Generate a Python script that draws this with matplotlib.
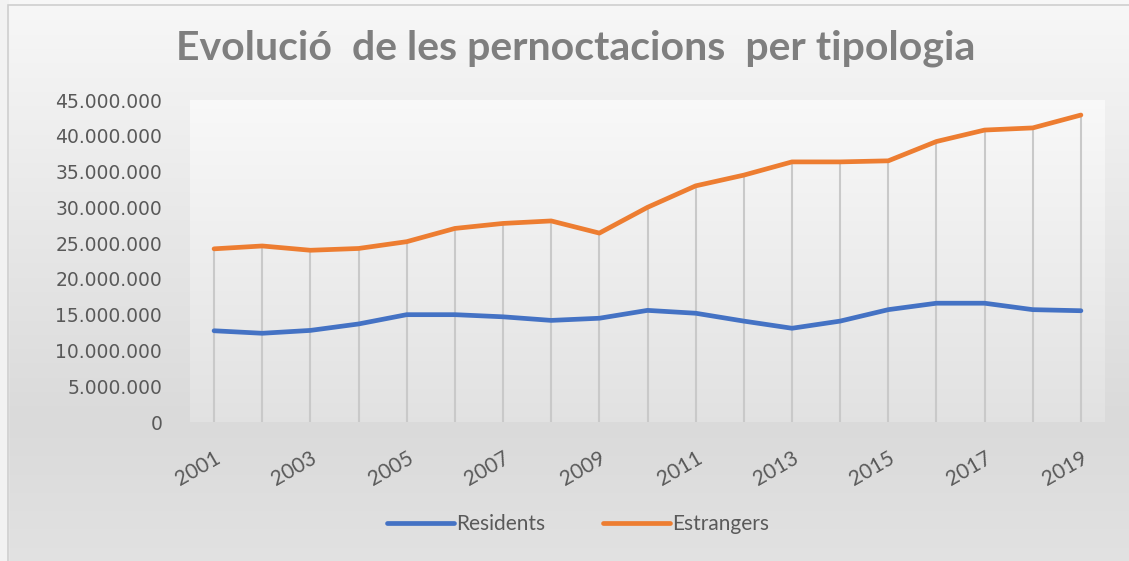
#!/usr/bin/python3
# -*- coding: utf-8 -*-
"""
Evolucio de les pernoctacions per tipologia (residents / estrangers).
"""
import numpy
import matplotlib
matplotlib.use('Agg')
import matplotlib.pyplot as plt
from matplotlib.ticker import FuncFormatter
from matplotlib.patches import Rectangle

years = list(range(2001, 2020))
residents = [12.75e6, 12.4e6, 12.8e6, 13.7e6, 15.0e6, 15.0e6, 14.7e6, 14.2e6, 14.5e6, 15.6e6,
             15.2e6, 14.1e6, 13.1e6, 14.1e6, 15.7e6, 16.6e6, 16.6e6, 15.7e6, 15.55e6]
estrangers = [24.2e6, 24.6e6, 24.0e6, 24.25e6, 25.2e6, 27.05e6, 27.75e6, 28.1e6, 26.4e6, 30.0e6,
              33.0e6, 34.5e6, 36.35e6, 36.35e6, 36.5e6, 39.2e6, 40.8e6, 41.1e6, 42.9e6]
labels = ['Residents', 'Estrangers']
colors = ['#4472C4', '#ED7D31']
title = 'Evolució  de les pernoctacions  per tipologia'

def gradient(ax, stops, extent, transform, zorder):
    pos = numpy.linspace(0, 1, 256)
    xs = [s[0] for s in stops]
    vals = numpy.interp(pos, xs, [s[1] for s in stops])
    img = numpy.dstack([vals, vals, vals]).reshape(256, 1, 3)
    ax.imshow(img, extent=extent, transform=transform, aspect='auto',
              zorder=zorder, origin='upper', interpolation='bilinear')

fig = plt.figure(figsize=(11.29, 5.61), dpi=100)

# figure background
bg = fig.add_axes([0, 0, 1, 1])
bg.set_axis_off()
bg.set_xlim(0, 1); bg.set_ylim(0, 1)
gradient(bg, [(0, 0.97), (0.75, 0.855), (1, 0.885)], [0, 1, 0, 1], bg.transAxes, 0)
bg.add_patch(Rectangle((0, 0), 8/1129, 1, transform=bg.transAxes, color='#f2f2f2', zorder=1))
bg.add_patch(Rectangle((8/1129, -0.01), 1.0, 1 - 5/561 + 0.01, transform=bg.transAxes,
                       fill=False, edgecolor='#cfcfcf', lw=1.2, zorder=2))

ax = fig.add_axes([190/1129, 1 - 422/561, 915/1129, 322/561])
ax.set_xlim(2000.5, 2019.5)
ax.set_ylim(0, 45e6)
gradient(ax, [(0, 0.975), (1, 0.885)], [0, 1, 0, 1], ax.transAxes, 0)

ax.vlines(years, 0, numpy.maximum(residents, estrangers), color='#c9c9c9', lw=1.5, zorder=1)
ax.plot(years, residents, color=colors[0], lw=3.4, label=labels[0], zorder=3,
        solid_capstyle='round', solid_joinstyle='round')
ax.plot(years, estrangers, color=colors[1], lw=3.4, label=labels[1], zorder=3,
        solid_capstyle='round', solid_joinstyle='round')

for s in ax.spines.values():
    s.set_visible(False)

ax.set_yticks(numpy.arange(0, 45e6 + 1, 5e6))
ax.yaxis.set_major_formatter(FuncFormatter(lambda v, p: f"{int(v):,}".replace(',', '.')))
ax.tick_params(axis='y', length=0, pad=20, labelsize=13.5, labelcolor='#595959')
for t in ax.get_yticklabels():
    t.set_family('DejaVu Sans')

ax.set_xticks(years[::2])
ax.set_xticklabels([str(y) for y in years[::2]], rotation=30, ha='right',
                   rotation_mode='anchor', fontsize=15, color='#595959', family='Lato')
ax.tick_params(axis='x', length=0, pad=19)

fig.text(0.51, 1 - 48/561, title, ha='center', va='center', fontsize=29.5,
         fontweight='bold', color='#7f7f7f', family='Lato')

leg = fig.legend(loc='center', bbox_to_anchor=(0.512, 1 - 524/561), ncol=2, frameon=False,
                 prop={'family': 'Lato', 'size': 15}, handlelength=3.2, handletextpad=0.1,
                 columnspacing=2.8)
for t in leg.get_texts():
    t.set_color('#595959')
for h in leg.get_lines():
    h.set_linewidth(3.4)

fig.savefig('out.png', dpi=100)
